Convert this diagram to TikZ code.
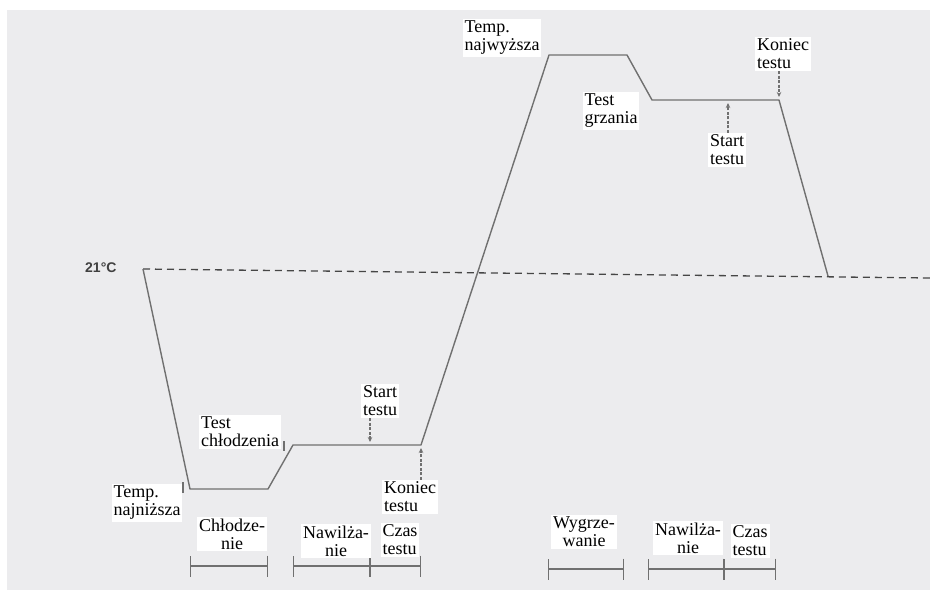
\documentclass[tikz,border=0pt]{standalone}
\usepackage{fontspec}
\setmainfont{Liberation Serif}
\newfontfamily\lsans{Liberation Sans}
\usetikzlibrary{arrows.meta}
\definecolor{bggray}{RGB}{236,236,238}
\definecolor{curvegray}{RGB}{112,112,112}
\definecolor{dashgray}{RGB}{70,70,70}
\begin{document}
\begin{tikzpicture}[x=1pt,y=-1pt,
  lbl/.style={fill=white,inner sep=2pt,align=left,font=\fontsize{18}{18}\selectfont,text=black},
  lblc/.style={lbl,align=center},
  curve/.style={draw=curvegray,line width=1.4pt,line join=round},
  tickmark/.style={draw=curvegray,line width=1.2pt},
  ptr/.style={draw=curvegray,line width=1.1pt,dash pattern=on 3pt off 1.5pt,-{Stealth[length=5pt,width=4.5pt]}},
  span/.style={draw=curvegray,line width=1.1pt,{Bar[width=21pt]}-{Bar[width=21pt]}}
]
\useasboundingbox (0,0) rectangle (930,597);
\fill[white] (0,0) rectangle (930,597);
\fill[bggray] (7,10) rectangle (930,590);

% curve points
\coordinate (p0) at (143,269);
\coordinate (p1) at (190,489);
\coordinate (p2) at (268,489);
\coordinate (p3) at (293,445);
\coordinate (p4) at (421,445);
\coordinate (p5) at (549,55);
\coordinate (p6) at (627,55);
\coordinate (p7) at (652,100);
\coordinate (p8) at (779,100);
\coordinate (p9) at (828,276);
\coordinate (dEnd) at (930,278);
\coordinate (sL) at (370,442);
\coordinate (sU) at (728,103);
\coordinate (kLe) at (421,448);
\coordinate (kUe) at (779,97);

% reference level
\draw[dashgray,line width=1.3pt,dash pattern=on 7pt off 5pt] (p0) -- (dEnd);
\node[anchor=east,font=\lsans\bfseries\fontsize{14}{14}\selectfont,text=black!75] (t21) at (120,268) {21°C};

% profile
\draw[curve] (p0) -- (p1) -- (p2) -- (p3) -- (p4) -- (p5) -- (p6) -- (p7) -- (p8) -- (p9);

% small tick marks
\draw[tickmark] (183,482) -- (183,493);
\draw[tickmark] (284,441) -- (284,451);

% labels
\node[lbl] (tmax) at (502,38) {Temp.\\najwyższa};
\node[lbl] (tgrz) at (611,111) {Test\\grzania};
\node[lbl] (kU) at (783,54) {Koniec\\testu};
\node[lbl] (stU) at (727,150) {Start\\testu};
\node[lbl] (stL) at (380,401) {Start\\testu};
\node[lbl] (tchl) at (240,432) {Test\\chłodzenia};
\node[lbl] (tmin) at (147,503) {Temp.\\najniższa};
\node[lbl] (kL) at (410,497) {Koniec\\testu};

% pointers
\draw[ptr] (stL.south -| sL) -- (sL);
\draw[ptr] (kL.north -| kLe) -- (kLe);
\draw[ptr] (stU.north -| sU) -- (sU);
\draw[ptr] (kU.south -| kUe) -- (kUe);

% phase spans
\coordinate (b1) at (190,566);
\coordinate (b2) at (268,566);
\coordinate (b3) at (293,566);
\coordinate (b4) at (370,566);
\coordinate (b5) at (421,566);
\coordinate (c1) at (548,569);
\coordinate (c2) at (624,569);
\coordinate (c3) at (648,569);
\coordinate (c4) at (724,569);
\coordinate (c5) at (776,569);
\draw[span] (b1) -- (b2);
\draw[span] (b3) -- (b4);
\draw[span] (b4) -- (b5);
\draw[span] (c1) -- (c2);
\draw[span] (c3) -- (c4);
\draw[span] (c4) -- (c5);

\node[lblc] (chl) at (232,534) {Chłodze-\\nie};
\node[lblc] (naw1) at (336,541) {Nawilża-\\nie};
\node[lbl] (cz1) at (400,540) {Czas\\testu};
\node[lblc] (wyg) at (584,532) {Wygrze-\\wanie};
\node[lblc] (naw2) at (688,538) {Nawilża-\\nie};
\node[lbl] (cz2) at (750,541) {Czas\\testu};
\end{tikzpicture}
\end{document}
